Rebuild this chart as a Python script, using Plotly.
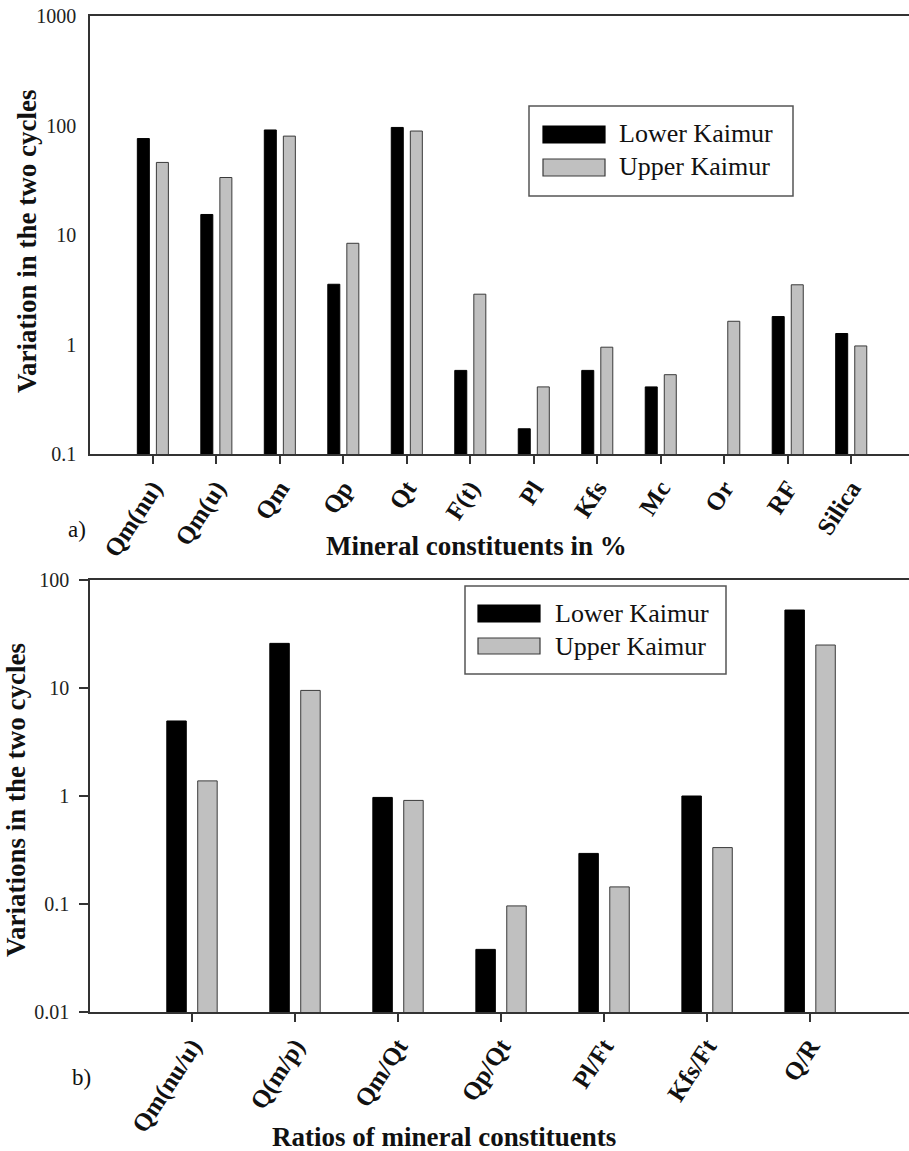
import plotly.graph_objects as go

# ---------------- data ----------------
top_categories = ["Qm(nu)", "Qm(u)", "Qm", "Qp", "Qt", "F(t)", "Pl", "Kfs", "Mc", "Or", "RF", "Silica"]
top_lower = [76, 15.4, 91, 3.55, 96, 0.58, 0.17, 0.58, 0.41, None, 1.80, 1.26]
top_upper = [46, 33.5, 80, 8.4, 89, 2.88, 0.41, 0.945, 0.53, 1.63, 3.51, 0.97]

bot_categories = ["Qm(nu/u)", "Q(m/p)", "Qm/Qt", "Qp/Qt", "Pl/Ft", "Kfs/Ft", "Q/R"]
bot_lower = [4.95, 25.9, 0.97, 0.038, 0.294, 1.0, 52.7]
bot_upper = [1.38, 9.5, 0.91, 0.096, 0.144, 0.333, 25.0]

top_yticks = [0.1, 1, 10, 100, 1000]
top_yticktext = ["0.1", "1", "10", "100", "1000"]
bot_yticks = [0.01, 0.1, 1, 10, 100]
bot_yticktext = ["0.01", "0.1", "1", "10", "100"]

series_names = ["Lower Kaimur", "Upper Kaimur"]

# ---------------- styling ----------------
W, H = 909, 1151
FONT = "Liberation Serif, Times New Roman, serif"
BLACK = "#000000"
GREY = "#c0c0c0"
EDGE = "#3a3a3a"
AXC = "#333333"


def px(x):
    return x / W


def py(y):
    return 1 - y / H


fig = go.Figure()

fig.add_trace(go.Bar(x=top_categories, y=top_lower, name=series_names[0],
                     marker=dict(color=BLACK, line=dict(color=BLACK, width=1)),
                     xaxis="x", yaxis="y", showlegend=False))
fig.add_trace(go.Bar(x=top_categories, y=top_upper, name=series_names[1],
                     marker=dict(color=GREY, line=dict(color=EDGE, width=1)),
                     xaxis="x", yaxis="y", showlegend=False))
fig.add_trace(go.Bar(x=bot_categories, y=bot_lower, name=series_names[0],
                     marker=dict(color=BLACK, line=dict(color=BLACK, width=1)),
                     xaxis="x2", yaxis="y2", showlegend=False))
fig.add_trace(go.Bar(x=bot_categories, y=bot_upper, name=series_names[1],
                     marker=dict(color=GREY, line=dict(color=EDGE, width=1)),
                     xaxis="x2", yaxis="y2", showlegend=False))

xtickfont = dict(family=FONT, size=25, color="#111111", weight="bold")
ytickfont = dict(family=FONT, size=20, color="#222222")

fig.update_layout(
    width=W, height=H,
    margin=dict(l=0, r=0, t=0, b=0, autoexpand=False),
    paper_bgcolor="white", plot_bgcolor="white",
    barmode="group", bargap=0.40, bargroupgap=0.37,
    showlegend=False,
    font=dict(family=FONT, color="#111111"),
    xaxis=dict(domain=[px(90), 1.0], anchor="y", type="category", automargin=False,
               range=[-0.99, 11.91], showline=True, linecolor=AXC, linewidth=1.5,
               mirror=True, ticks="outside", ticklen=8, tickcolor=AXC, tickwidth=1.5,
               tickangle=-57, tickfont=xtickfont, showgrid=False, zeroline=False),
    yaxis=dict(domain=[py(454), py(16)], anchor="x", type="log", range=[-1, 3], automargin=False,
               showline=True, linecolor=AXC, linewidth=1.5, ticks="",
               tickvals=top_yticks, ticktext=top_yticktext, tickfont=ytickfont,
               ticklabelstandoff=8, showgrid=False, zeroline=False),
    xaxis2=dict(domain=[px(90), 1.0], anchor="y2", type="category", automargin=False,
                range=[-0.99, 6.96], showline=True, linecolor=AXC, linewidth=1.5,
                mirror=True, ticks="outside", ticklen=8, tickcolor=AXC, tickwidth=1.5,
                tickangle=-57, tickfont=xtickfont, showgrid=False, zeroline=False),
    yaxis2=dict(domain=[py(1012), py(580)], anchor="x2", type="log", range=[-2, 2], automargin=False,
                showline=True, linecolor=AXC, linewidth=1.5, ticks="outside",
                ticklen=9, tickcolor=AXC, tickwidth=1.5,
                tickvals=bot_yticks, ticktext=bot_yticktext, tickfont=ytickfont,
                ticklabelstandoff=6, showgrid=False, zeroline=False),
)

shapes = []
annotations = []


def legend(box, sw_x, sw_rows, text_x, text_rows):
    x0, y0, x1, y1 = box
    shapes.append(dict(type="rect", xref="paper", yref="paper",
                       x0=px(x0), x1=px(x1), y0=py(y1), y1=py(y0),
                       line=dict(color="#555555", width=1.5), fillcolor="white", layer="above"))
    colors = [(BLACK, BLACK), (GREY, EDGE)]
    for (fc, lc), (sy0, sy1), ty, name in zip(colors, sw_rows, text_rows, series_names):
        shapes.append(dict(type="rect", xref="paper", yref="paper",
                           x0=px(sw_x[0]), x1=px(sw_x[1]), y0=py(sy1), y1=py(sy0),
                           line=dict(color=lc, width=1.2), fillcolor=fc, layer="above"))
        annotations.append(dict(xref="paper", yref="paper", x=px(text_x), y=py(ty),
                                xanchor="left", yanchor="middle", showarrow=False,
                                text=name, font=dict(family=FONT, size=26, color="#111111")))


legend((529, 106, 793, 196), (543, 605), [(126, 143), (159, 176)], 617, [134, 167])
legend((465, 586, 726, 674), (478, 540), [(605, 622), (638, 654)], 553, [613, 646])

title_font = dict(family=FONT, size=27, color="#111111", weight="bold")
annotations += [
    dict(xref="paper", yref="paper", x=px(27), y=py(242), text="Variation in the two cycles",
         textangle=-90, showarrow=False, xanchor="center", yanchor="middle", font=title_font),
    dict(xref="paper", yref="paper", x=px(16), y=py(800), text="Variations in the two cycles",
         textangle=-90, showarrow=False, xanchor="center", yanchor="middle", font=title_font),
    dict(xref="paper", yref="paper", x=px(476), y=py(546), text="Mineral constituents in %",
         showarrow=False, xanchor="center", yanchor="middle", font=title_font),
    dict(xref="paper", yref="paper", x=px(444), y=py(1137), text="Ratios of mineral constituents",
         showarrow=False, xanchor="center", yanchor="middle", font=title_font),
    dict(xref="paper", yref="paper", x=px(77), y=py(529), text="a)",
         showarrow=False, xanchor="center", yanchor="middle",
         font=dict(family=FONT, size=23, color="#111111")),
    dict(xref="paper", yref="paper", x=px(81), y=py(1077), text="b)",
         showarrow=False, xanchor="center", yanchor="middle",
         font=dict(family=FONT, size=23, color="#111111")),
]

fig.update_layout(shapes=shapes, annotations=annotations)

fig.write_html("out.html",
               config={"displayModeBar": False},
               post_script="document.body.style.margin='0';document.body.style.overflow='hidden';")
